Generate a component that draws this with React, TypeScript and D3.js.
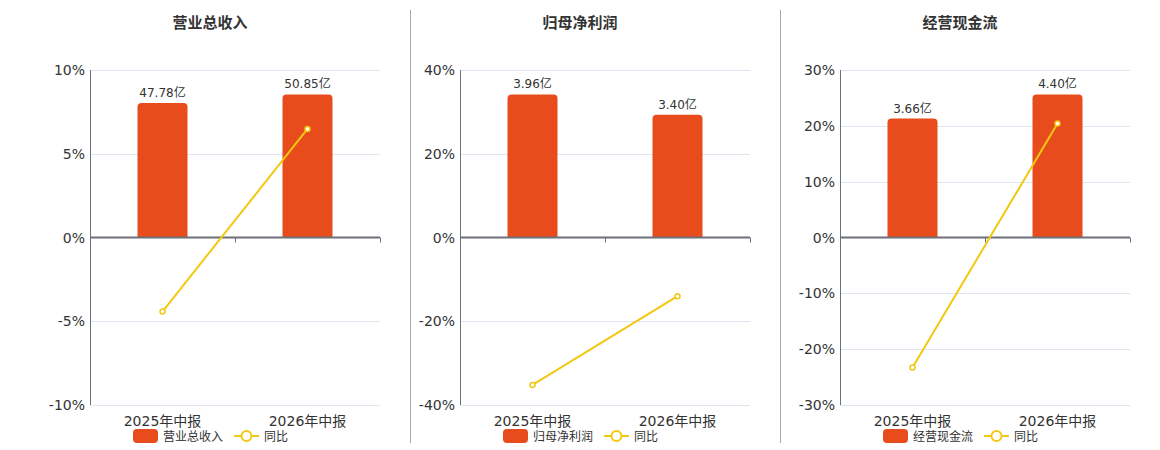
import React, { useRef, useEffect } from 'react';
import * as d3 from 'd3';

const categories = ['2025年中报', '2026年中报'];
const panelTitles = ['营业总收入', '归母净利润', '经营现金流'];
const yoyName = '同比';

const revenueValues = [47.78, 50.85];
const profitValues = [3.96, 3.4];
const cashflowValues = [3.66, 4.4];

const revenueYoy = [-4.42, 6.48];
const profitYoy = [-35.2, -14.0];
const cashflowYoy = [-23.3, 20.4];

const revenueTicks = [-10, -5, 0, 5, 10];
const profitTicks = [-40, -20, 0, 20, 40];
const cashflowTicks = [-30, -20, -10, 0, 10, 20, 30];

interface Panel {
  title: string;
  values: number[];
  yoy: number[];
  ticks: number[];
}

const panels: Panel[] = [
  { title: panelTitles[0], values: revenueValues, yoy: revenueYoy, ticks: revenueTicks },
  { title: panelTitles[1], values: profitValues, yoy: profitYoy, ticks: profitTicks },
  { title: panelTitles[2], values: cashflowValues, yoy: cashflowYoy, ticks: cashflowTicks },
];

const W = 1160;
const H = 450;
const offsets = [0, 370, 750];
const BAR = '#e84b1c';
const LINE = '#f2c811';
const AXIS = '#6e7079';
const GRID = '#e0e6f1';
const TEXT = '#333';
const FONT = '"DejaVu Sans", "Noto Sans CJK SC", sans-serif';

const App: React.FC = () => {
  const svgRef = useRef<SVGSVGElement | null>(null);

  useEffect(() => {
    const svg = d3.select(svgRef.current);
    svg.selectAll('*').remove();

    const margin = { top: 70, left: 90, right: 30, bottom: 45 };
    const plotW = 290;
    const plotH = H - margin.top - margin.bottom;

    panels.forEach((p, pi) => {
      const g = svg.append('g').attr('transform', `translate(${offsets[pi]},0)`);

      // separator between panels
      if (pi < panels.length - 1) {
        g.append('line')
          .attr('x1', 410.5).attr('x2', 410.5)
          .attr('y1', 10).attr('y2', 443)
          .attr('stroke', '#aaa').attr('stroke-width', 1);
      }

      // title
      g.append('text')
        .attr('x', 210).attr('y', 28)
        .attr('text-anchor', 'middle')
        .style('font-size', '15px').style('font-weight', 'bold')
        .attr('fill', TEXT)
        .text(p.title);

      const x = d3.scaleBand<string>()
        .domain(categories)
        .range([margin.left, margin.left + plotW]);

      const lim = d3.max(p.ticks) as number;
      const y = d3.scaleLinear()
        .domain([-lim, lim])
        .range([margin.top + plotH, margin.top]);

      // hidden value axis for the bars
      const vMax = (d3.max(p.values) as number) / 0.854;
      const yv = d3.scaleLinear().domain([-vMax, vMax]).range([margin.top + plotH, margin.top]);

      // grid
      g.append('g')
        .selectAll('line')
        .data(p.ticks.filter(t => t !== 0))
        .enter()
        .append('line')
        .attr('x1', margin.left).attr('x2', margin.left + plotW)
        .attr('y1', d => Math.round(y(d)) + 0.5).attr('y2', d => Math.round(y(d)) + 0.5)
        .attr('stroke', GRID).attr('stroke-width', 1);

      // y tick labels
      g.append('g')
        .selectAll('text')
        .data(p.ticks)
        .enter()
        .append('text')
        .attr('x', margin.left - 5)
        .attr('y', d => y(d) + 5)
        .attr('text-anchor', 'end')
        .style('font-size', '14px')
        .attr('fill', TEXT)
        .text(d => `${d}%`);

      // y axis line
      g.append('line')
        .attr('x1', margin.left + 0.5).attr('x2', margin.left + 0.5)
        .attr('y1', margin.top).attr('y2', margin.top + plotH)
        .attr('stroke', AXIS).attr('stroke-width', 1);

      // bars
      const bw = 50;
      const r = 4;
      p.values.forEach((v, i) => {
        const cx = (x(categories[i]) as number) + x.bandwidth() / 2;
        const top = yv(v);
        const base = yv(0);
        const left = cx - bw / 2;
        const path = `M${left},${base} L${left},${top + r} Q${left},${top} ${left + r},${top} L${left + bw - r},${top} Q${left + bw},${top} ${left + bw},${top + r} L${left + bw},${base} Z`;
        g.append('path').attr('d', path).attr('fill', BAR);
        g.append('text')
          .attr('x', cx).attr('y', top - 6)
          .attr('text-anchor', 'middle')
          .style('font-size', '12px')
          .attr('fill', TEXT)
          .text(`${v.toFixed(2)}亿`);
      });

      // x axis at zero
      const zeroY = y(0);
      g.append('line')
        .attr('x1', margin.left).attr('x2', margin.left + plotW)
        .attr('y1', zeroY).attr('y2', zeroY)
        .attr('stroke', AXIS).attr('stroke-width', 2);
      const tickXs = [...categories.map(c => x(c) as number), margin.left + plotW];
      g.append('g')
        .selectAll('line')
        .data(tickXs)
        .enter()
        .append('line')
        .attr('x1', d => d + 0.5).attr('x2', d => d + 0.5)
        .attr('y1', zeroY).attr('y2', zeroY + 5)
        .attr('stroke', AXIS).attr('stroke-width', 1);

      // category labels
      g.append('g')
        .selectAll('text')
        .data(categories)
        .enter()
        .append('text')
        .attr('x', d => (x(d) as number) + x.bandwidth() / 2)
        .attr('y', margin.top + plotH + 21)
        .attr('text-anchor', 'middle')
        .style('font-size', '14px')
        .attr('fill', TEXT)
        .text(d => d);

      // yoy line
      const pts = p.yoy.map((v, i) => [(x(categories[i]) as number) + x.bandwidth() / 2, y(v)] as [number, number]);
      g.append('path')
        .attr('d', d3.line()(pts))
        .attr('fill', 'none')
        .attr('stroke', LINE)
        .attr('stroke-width', 2);
      g.append('g')
        .selectAll('circle')
        .data(pts)
        .enter()
        .append('circle')
        .attr('cx', d => d[0]).attr('cy', d => d[1])
        .attr('r', 2.5)
        .attr('fill', '#fff')
        .attr('stroke', LINE)
        .attr('stroke-width', 1.5);

      // legend
      const legY = 436;
      const lx = 133;
      g.append('rect')
        .attr('x', lx).attr('y', legY - 7)
        .attr('width', 25).attr('height', 14)
        .attr('rx', 4)
        .attr('fill', BAR);
      g.append('text')
        .attr('x', lx + 30).attr('y', legY + 4.5)
        .style('font-size', '12px')
        .attr('fill', TEXT)
        .text(p.title);
      const l2 = lx + 101;
      g.append('line')
        .attr('x1', l2).attr('x2', l2 + 25)
        .attr('y1', legY).attr('y2', legY)
        .attr('stroke', LINE).attr('stroke-width', 2);
      g.append('circle')
        .attr('cx', l2 + 12.5).attr('cy', legY)
        .attr('r', 5)
        .attr('fill', '#fff')
        .attr('stroke', LINE)
        .attr('stroke-width', 2);
      g.append('text')
        .attr('x', l2 + 30).attr('y', legY + 4.5)
        .style('font-size', '12px')
        .attr('fill', TEXT)
        .text(yoyName);
    });
  }, []);

  return (
    <svg
      ref={svgRef}
      width={W}
      height={H}
      style={{ position: 'absolute', left: 0, top: 0, background: '#fff', fontFamily: FONT }}
    />
  );
};

export default App;
